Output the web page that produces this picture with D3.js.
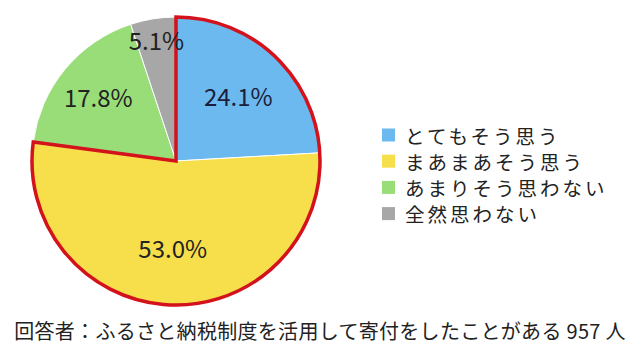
<!DOCTYPE html>
<html>
<head>
<meta charset="utf-8">
<script src="https://cdn.jsdelivr.net/npm/d3@7"></script>
<style>
  html, body { margin: 0; padding: 0; background: #fff; }
  svg { display: block; font-family: "Noto Sans CJK JP", "Noto Sans", sans-serif; }
</style>
</head>
<body>
<svg id="chart" width="640" height="355"></svg>
<script>
// answers and their shares (%)
const categories = ['とてもそう思う', 'まあまあそう思う', 'あまりそう思わない', '全然思わない'];
const values = [24.1, 53.0, 17.8, 5.1];
const colors = ['#6cb9ef', '#f6df4b', '#98dd78', '#a7a7a7'];
const footnote = '回答者：ふるさと納税制度を活用して寄付をしたことがある 957 人';

const svg = d3.select('#chart');
const cx = 176, cy = 161, r = 144;

const pie = d3.pie().sort(null).value(d => d.value);
const arcs = pie(categories.map((c, i) => ({ name: c, value: values[i], color: colors[i] })));
const arc = d3.arc().innerRadius(0).outerRadius(r);

const g = svg.append('g').attr('transform', `translate(${cx},${cy})`);

g.selectAll('path.slice')
  .data(arcs)
  .join('path')
  .attr('class', 'slice')
  .attr('d', arc)
  .attr('fill', d => d.data.color)
  .attr('stroke', '#fff')
  .attr('stroke-width', 1);

// red outline around the first two slices (positive answers)
const hl = arcs.slice(0, 2);
g.append('path')
  .attr('d', d3.arc().innerRadius(0).outerRadius(r)({
    startAngle: hl[0].startAngle,
    endAngle: hl[1].endAngle
  }))
  .attr('fill', 'none')
  .attr('stroke', '#d4121c')
  .attr('stroke-width', 3.5)
  .attr('stroke-linejoin', 'miter');

// percent labels
const labelR = [0.63, 0.6, 0.7, 0.855];
g.selectAll('text.pct')
  .data(arcs)
  .join('text')
  .attr('class', 'pct')
  .attr('transform', (d, i) => {
    const a = (d.startAngle + d.endAngle) / 2;
    const rr = r * labelR[i];
    return `translate(${Math.sin(a) * rr},${-Math.cos(a) * rr})`;
  })
  .attr('text-anchor', 'middle')
  .attr('dominant-baseline', 'central')
  .attr('font-size', 24)
  .attr('fill', (d, i) => i === 0 ? '#1b1d3a' : '#222')
  .text(d => d.data.value.toFixed(1) + '%');

// legend
const legend = svg.append('g').attr('transform', 'translate(382,135)');
const rows = legend.selectAll('g')
  .data(categories)
  .join('g')
  .attr('transform', (d, i) => `translate(0,${i * 26.2})`);
rows.append('rect')
  .attr('x', 0).attr('y', -6.5)
  .attr('width', 13).attr('height', 13)
  .attr('fill', (d, i) => colors[i]);
rows.append('text')
  .attr('x', 23)
  .attr('dominant-baseline', 'central')
  .attr('font-size', 19.5)
  .attr('letter-spacing', 3)
  .attr('fill', '#222')
  .text(d => d);

svg.append('text')
  .attr('x', 320).attr('y', 330)
  .attr('text-anchor', 'middle')
  .attr('dominant-baseline', 'central')
  .attr('font-size', 20)
  .attr('letter-spacing', 0.3)
  .attr('fill', '#222')
  .text(footnote);
</script>
</body>
</html>
